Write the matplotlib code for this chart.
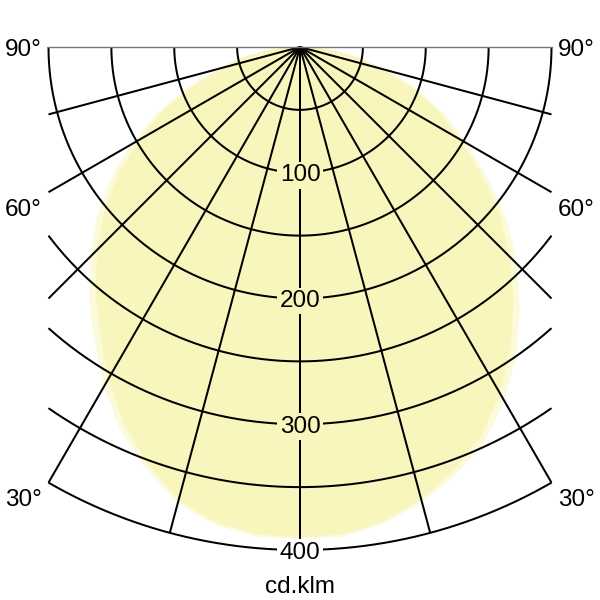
import numpy as np
import matplotlib
matplotlib.use("Agg")
import matplotlib.pyplot as plt

# ---- data (cd/klm) ----
angles = [0, 5, 10, 15, 20, 25, 30, 35, 40, 45, 50, 55, 60, 65, 70, 75, 80, 85, 90]
inner_left = [390, 389, 384, 373, 353, 331, 305, 277, 253, 228, 203, 177, 148, 120, 90, 64, 45, 24, 4]
inner_right = [390, 389, 383, 372, 358, 341, 318, 292, 264, 236, 207, 176, 146, 122, 95, 68, 46, 24, 4]
outer_left = [391, 391, 386, 376, 357, 337, 312, 285, 261, 236, 211, 184, 155, 126, 95, 68, 48, 26, 5]
outer_right = [391, 391, 385, 375, 362, 347, 325, 300, 272, 244, 215, 183, 153, 128, 100, 72, 49, 26, 5]

rings = [50, 100, 150, 200, 250, 300, 350, 400]
ring_labels = [100, 200, 300, 400]
spokes = [-75, -60, -45, -30, -15, 0, 15, 30, 45, 60, 75]
angle_labels = ["90°", "60°", "30°"]
unit_label = "cd.klm"

RMAX = 400
XMAX = 200

inner_col = "#f8f5bd"
outer_col = "#fbfad9"
FONT = "Liberation Sans"

s = 503 / 400.0  # px per unit (layout)
fig = plt.figure(figsize=(6, 6), dpi=100)
ax = fig.add_axes([0, 0, 1, 1])
ax.set_xlim(-300 / s, 300 / s)
ax.set_ylim(-553 / s, 47 / s)
ax.set_aspect("equal")
ax.axis("off")


def curve(left, right):
    a = np.radians(np.array(angles, float))
    L = np.array(left, float)
    R = np.array(right, float)
    xs = np.concatenate([-(L * np.sin(a))[::-1], (R * np.sin(a))[1:]])
    ys = np.concatenate([-(L * np.cos(a))[::-1], -(R * np.cos(a))[1:]])
    return xs, ys


xo, yo = curve(outer_left, outer_right)
ax.fill(xo, yo, color=outer_col, lw=0, zorder=1)
xi, yi = curve(inner_left, inner_right)
ax.fill(xi, yi, color=inner_col, lw=0, zorder=2)

lw = 1.45
for r in rings:
    tmax = np.pi / 2 if r <= XMAX else np.arcsin(XMAX / r)
    t = np.linspace(-tmax, tmax, 400)
    ax.plot(r * np.sin(t), -r * np.cos(t), color="black", lw=lw, zorder=3,
            solid_capstyle="butt")

for sp in spokes:
    t = np.radians(sp)
    rend = RMAX if sp == 0 else min(RMAX, XMAX / abs(np.sin(t)))
    ax.plot([0, rend * np.sin(t)], [0, -rend * np.cos(t)], color="black",
            lw=lw, zorder=3, solid_capstyle="butt")

ax.plot([-XMAX, XMAX], [0, 0], color="#777777", lw=1.0, zorder=3)

fs = 17.5
for r in ring_labels:
    fc = inner_col if r < 400 else "white"
    ax.text(0, -(r + 6.8), str(r), ha="center", va="baseline", fontsize=fs,
            family=FONT, zorder=5,
            bbox=dict(boxstyle="square,pad=0.1", fc=fc, ec="none"))

label_y = [-8.5 / s, -168.5 / s, -459 / s]
for lab, yv in zip(angle_labels, label_y):
    ax.text(-258 / s, yv, lab, ha="right", va="baseline", fontsize=fs, family=FONT)
    ax.text(258 / s, yv, lab, ha="left", va="baseline", fontsize=fs, family=FONT)

ax.text(0, -546 / s, unit_label, ha="center", va="baseline", fontsize=fs, family=FONT)

fig.savefig("out.png", dpi=100)
